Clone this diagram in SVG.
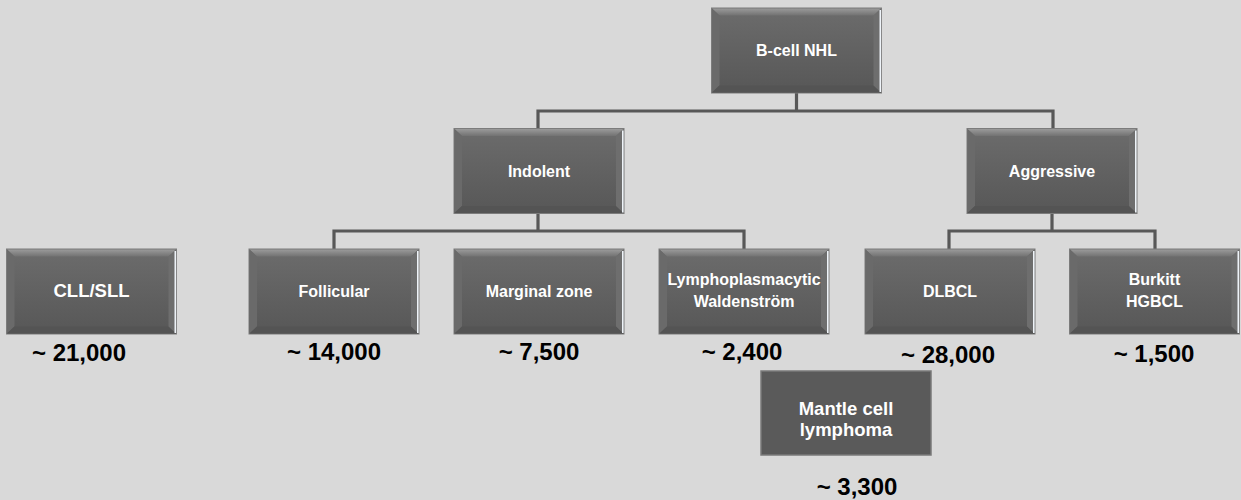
<svg xmlns="http://www.w3.org/2000/svg" xmlns:xlink="http://www.w3.org/1999/xlink" width="1241" height="500" viewBox="0 0 1241 500">
<style>
.lbl{font-family:"Liberation Sans",Arial,sans-serif;font-weight:bold;fill:#ffffff;text-anchor:middle;font-size:16px}
.big{font-size:18.5px}
.num{font-family:"Liberation Sans",Arial,sans-serif;font-weight:bold;fill:#000000;text-anchor:middle;font-size:24px}
.conn{fill:none;stroke:#585858;stroke-width:3.2;stroke-linejoin:miter}
</style>
<defs>
<linearGradient id="face" x1="0" y1="0" x2="0" y2="1">
<stop offset="0" stop-color="#6c6c6c"/>
<stop offset="1" stop-color="#575757"/>
</linearGradient>
<linearGradient id="topb" x1="0" y1="0" x2="0" y2="1">
<stop offset="0" stop-color="#9a9a9a"/>
<stop offset="1" stop-color="#727272"/>
</linearGradient>
<g id="bevel">
<rect x="0" y="0" width="170" height="85" fill="url(#face)" stroke="#7c7c7c" stroke-width="1"/>
<polygon points="0.5,0.5 169.5,0.5 162,7.5 8,7.5" fill="url(#topb)"/>
<polygon points="0.5,0.5 8,7.5 8,77.5 0.5,84.5" fill="#6a6a6a"/>
<polygon points="0.5,84.5 8,77.5 162,77.5 169.5,84.5" fill="#545454"/>
<polygon points="169.5,0.5 162,7.5 162,77.5 169.5,84.5" fill="#6e6e6e"/>
<line x1="168.8" y1="2" x2="168.8" y2="84" stroke="#eef3f8" stroke-width="1.6"/>
</g>
</defs>
<rect x="0" y="0" width="1241" height="500" fill="#d9d9d9"/>
<g id="connectors">
<path class="conn" d="M796.5,93 V111 M538,128 V111 H1053 V128"/>
<path class="conn" d="M538,214 V231 M334,249 V231 H744 V249"/>
<path class="conn" d="M1052,214 V231 M949,249 V231 H1155 V249"/>
</g>
<g id="bcell">
<use xlink:href="#bevel" transform="translate(711.5,8)"/>
<text class="lbl" x="796.5" y="56">B-cell NHL</text>
</g>
<g id="indolent">
<use xlink:href="#bevel" transform="translate(454,128.5)"/>
<text class="lbl" x="539" y="176.5">Indolent</text>
</g>
<g id="aggressive">
<use xlink:href="#bevel" transform="translate(967,128.5)"/>
<text class="lbl" x="1052" y="176.5">Aggressive</text>
</g>
<g id="cll">
<use xlink:href="#bevel" transform="translate(6.5,249)"/>
<text class="lbl big" x="91.5" y="297">CLL/SLL</text>
<text class="num" x="79" y="361">~ 21,000</text>
</g>
<g id="follicular">
<use xlink:href="#bevel" transform="translate(249,249)"/>
<text class="lbl" x="334" y="297">Follicular</text>
<text class="num" x="334" y="360">~ 14,000</text>
</g>
<g id="marginal">
<use xlink:href="#bevel" transform="translate(454,249)"/>
<text class="lbl" x="539" y="297">Marginal zone</text>
<text class="num" x="539" y="360">~ 7,500</text>
</g>
<g id="lympho">
<use xlink:href="#bevel" transform="translate(659,249)"/>
<text class="lbl" x="744" y="285">Lymphoplasmacytic</text>
<text class="lbl" x="744" y="307">Waldenström</text>
<text class="num" x="742" y="360">~ 2,400</text>
</g>
<g id="dlbcl">
<use xlink:href="#bevel" transform="translate(865,249)"/>
<text class="lbl" x="950" y="297">DLBCL</text>
<text class="num" x="948" y="363">~ 28,000</text>
</g>
<g id="burkitt">
<use xlink:href="#bevel" transform="translate(1069.5,249)"/>
<text class="lbl" x="1154.5" y="285">Burkitt</text>
<text class="lbl" x="1154.5" y="307">HGBCL</text>
<text class="num" x="1154" y="362">~ 1,500</text>
</g>
<g id="mantle">
<rect x="761" y="371" width="170" height="84" fill="#5a5a5a" stroke="#7a7a7a" stroke-width="1.5"/>
<text class="lbl big" x="846" y="415">Mantle cell</text>
<text class="lbl big" x="846" y="436">lymphoma</text>
<text class="num" x="857" y="495">~ 3,300</text>
</g>
</svg>
